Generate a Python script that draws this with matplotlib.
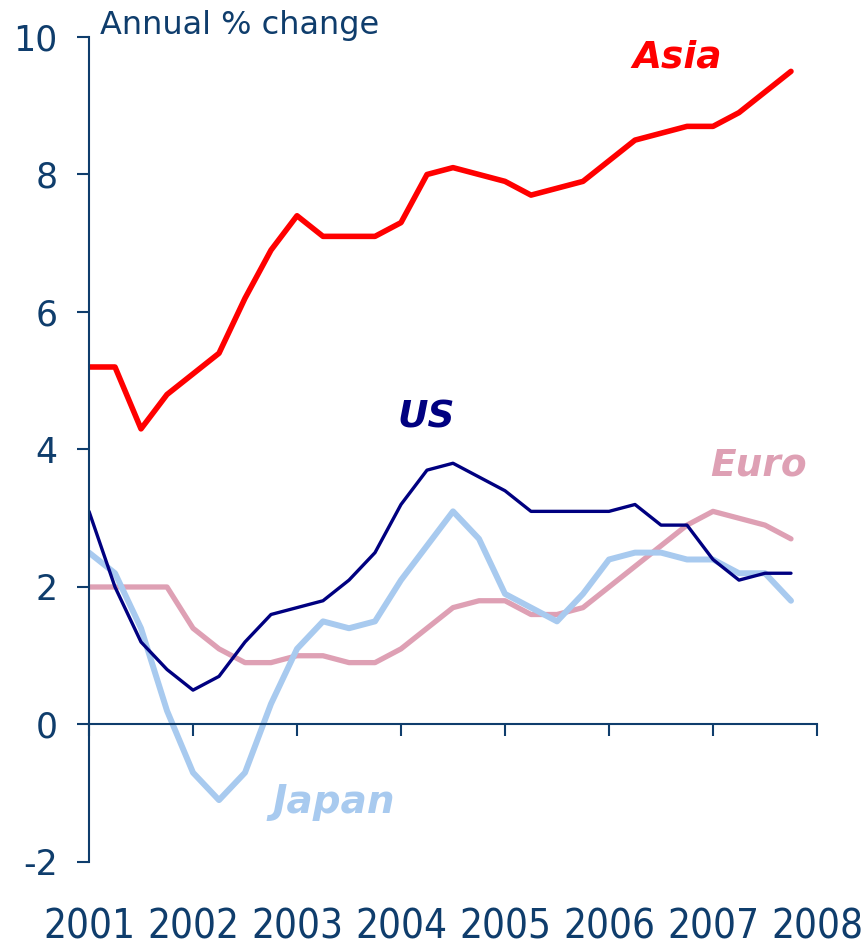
import numpy as np
import matplotlib
matplotlib.use("Agg")
import matplotlib.pyplot as plt

# quarterly data 2001Q1 - 2007Q4, annual % change
asia = [5.2, 5.2, 4.3, 4.8, 5.1, 5.4, 6.2, 6.9, 7.4, 7.1, 7.1, 7.1, 7.3, 8.0,
        8.1, 8.0, 7.9, 7.7, 7.8, 7.9, 8.2, 8.5, 8.6, 8.7, 8.7, 8.9, 9.2, 9.5]
us = [3.1, 2.0, 1.2, 0.8, 0.5, 0.7, 1.2, 1.6, 1.7, 1.8, 2.1, 2.5, 3.2, 3.7,
      3.8, 3.6, 3.4, 3.1, 3.1, 3.1, 3.1, 3.2, 2.9, 2.9, 2.4, 2.1, 2.2, 2.2]
japan = [2.5, 2.2, 1.4, 0.2, -0.7, -1.1, -0.7, 0.3, 1.1, 1.5, 1.4, 1.5, 2.1, 2.6,
         3.1, 2.7, 1.9, 1.7, 1.5, 1.9, 2.4, 2.5, 2.5, 2.4, 2.4, 2.2, 2.2, 1.8]
euro = [2.0, 2.0, 2.0, 2.0, 1.4, 1.1, 0.9, 0.9, 1.0, 1.0, 0.9, 0.9, 1.1, 1.4,
        1.7, 1.8, 1.8, 1.6, 1.6, 1.7, 2.0, 2.3, 2.6, 2.9, 3.1, 3.0, 2.9, 2.7]
years = [2001, 2002, 2003, 2004, 2005, 2006, 2007, 2008]
yticks = [-2, 0, 2, 4, 6, 8, 10]

x = 2001 + np.arange(len(asia)) / 4.0

axis_col = "#0f3d6c"

fig = plt.figure(figsize=(8.65, 9.46), dpi=100)
ax = fig.add_axes([0.1029, 0.0888, 0.8416, 0.8721])

ax.plot(x, euro, color="#dea0b4", lw=3.8, solid_capstyle="round")
ax.plot(x, japan, color="#a8caef", lw=4.3, solid_capstyle="round")
ax.plot(x, us, color="#000080", lw=2.4, solid_capstyle="round")
ax.plot(x, asia, color="#ff0000", lw=4.0, solid_capstyle="round")

ax.set_xlim(2001, 2008)
ax.set_ylim(-2, 10)

# spines
for s in ["top", "right"]:
    ax.spines[s].set_visible(False)
ax.spines["bottom"].set_position(("data", 0))
ax.spines["left"].set_color(axis_col)
ax.spines["bottom"].set_color(axis_col)
ax.spines["left"].set_linewidth(1.5)
ax.spines["bottom"].set_linewidth(1.5)

ax.set_yticks(yticks)
ax.set_yticklabels([str(v) for v in yticks], fontsize=25, color=axis_col)
ax.tick_params(axis="y", direction="out", length=8.5, width=1.5, color=axis_col, pad=14)

ax.set_xticks(years)
ax.set_xticklabels([str(v) for v in years], fontsize=29, color=axis_col,
                   fontstretch="condensed")
ax.tick_params(axis="x", direction="out", length=8.5, width=1.5, color=axis_col, pad=123)

ax.annotate("Annual % change", xy=(0.015, 1.0), xycoords="axes fraction",
            xytext=(0, 3), textcoords="offset pixels", fontsize=23,
            color=axis_col, ha="left", va="baseline")

# series labels
lab = dict(fontsize=27, fontweight="bold", fontstyle="italic", ha="center", va="center")
ax.text(2006.66, 9.70, "Asia", color="#ff0000", **lab)
ax.text(2004.24, 4.47, "US", color="#000080", **lab)
ax.text(2007.44, 3.77, "Euro", color="#dea0b4", **lab)
ax.text(2003.35, -1.13, "Japan", color="#a8caef", fontsize=28, fontweight="bold",
        fontstyle="italic", ha="center", va="center")

fig.savefig("out.png", dpi=100)
